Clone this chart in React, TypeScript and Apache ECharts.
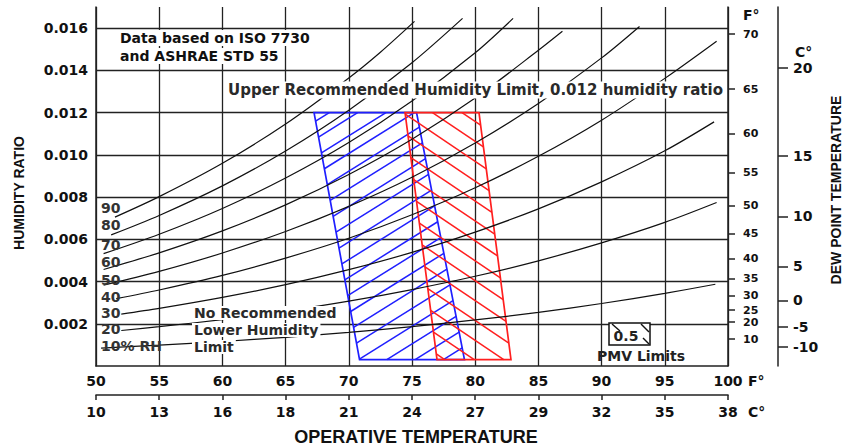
import React, { useEffect, useRef } from "react";
import * as echarts from "echarts";

// ---- axis values ----
const TEMP_F_MIN = 50;
const TEMP_F_MAX = 100;
const TEMP_STEP = 5;
const TEMP_C_LABELS = ["10", "13", "16", "18", "21", "24", "27", "29", "32", "35", "38"];
const HUMIDITY_MAX = 0.017;
const HUMIDITY_STEP = 0.002;

// dew point scales (humidity ratio at each dew point tick)
const DEW_F_LABELS = ["10", "20", "25", "30", "35", "40", "45", "50", "55", "60", "65", "70"];
const DEW_F_W = [0.00127, 0.00208, 0.00264, 0.00335, 0.00415, 0.00509, 0.00627, 0.00759, 0.00915, 0.01099, 0.01311, 0.01571];
const DEW_C_LABELS = ["-10", "-5", "0", "5", "10", "15", "20"];
const DEW_C_W = [0.0009, 0.00184, 0.00311, 0.00472, 0.00708, 0.00995, 0.0141];

// ---- relative humidity curves [°F, humidity ratio] ----
const RH_LABELS = ["90", "80", "70", "60", "50", "40", "30", "20", "10% RH"];
const rh90 = [[51.5, 0.00705], [55, 0.00802], [60, 0.0096], [65, 0.01146], [70, 0.01364], [72.5, 0.01486], [75.2, 0.01632]];
const rh80 = [[51.2, 0.00621], [55, 0.00713], [60, 0.00853], [65, 0.01018], [70, 0.01211], [75, 0.01436], [79, 0.01646]];
const rh70 = [[50.6, 0.00532], [55, 0.00624], [60, 0.00746], [65, 0.0089], [70, 0.01058], [75, 0.01255], [80, 0.01483], [83, 0.01646]];
const rh60 = [[50.6, 0.00457], [55, 0.00536], [60, 0.0064], [65, 0.00763], [70, 0.00907], [75, 0.01074], [80, 0.01269], [85, 0.01495], [86.9, 0.01585]];
const rh50 = [[50.6, 0.00383], [55, 0.00448], [60, 0.00535], [65, 0.00637], [70, 0.00756], [75, 0.00894], [80, 0.01056], [85, 0.01243], [90, 0.01459], [93, 0.01608]];
const rh40 = [[51.6, 0.00319], [55, 0.0036], [60, 0.00429], [65, 0.00511], [70, 0.00605], [75, 0.00716], [80, 0.00844], [85, 0.00993], [90, 0.01164], [95, 0.01362], [99.1, 0.01538]];
const rh30 = [[52, 0.00246], [55, 0.00273], [60, 0.00325], [65, 0.00385], [70, 0.00456], [75, 0.00538], [80, 0.00634], [85, 0.00744], [90, 0.00872], [95, 0.01019], [98.9, 0.01156]];
const rh20 = [[52, 0.00168], [55, 0.00186], [60, 0.0022], [65, 0.0026], [70, 0.00307], [75, 0.00362], [80, 0.00425], [85, 0.00498], [90, 0.00583], [95, 0.0068], [99.1, 0.00774]];
const rh10 = [[50.4, 0.00085], [55, 0.00099], [60, 0.00116], [65, 0.00136], [70, 0.00159], [75, 0.00186], [80, 0.00218], [85, 0.00254], [90, 0.00296], [95, 0.00344], [99, 0.00387]];
const RH_CURVES = [rh90, rh80, rh70, rh60, rh50, rh40, rh30, rh20, rh10];

// ---- comfort zones (PMV limits) [°F, humidity ratio] ----
const ZONE_WINTER = [[67.25, 0.012], [75.36, 0.012], [79.15, 0.0003], [70.85, 0.0003]];
const ZONE_SUMMER = [[74.45, 0.012], [80.3, 0.012], [82.83, 0.0003], [76.98, 0.0003]];

const FONT = "DejaVu Sans";
const AXIS_FONT = "Liberation Sans";
const INK = "#111";

function hatchSegments(pts: number[][], angleDeg: number, spacing: number) {
  const a = (angleDeg * Math.PI) / 180;
  const nx = Math.sin(a);
  const ny = Math.cos(a);
  const proj = pts.map((p) => p[0] * nx + p[1] * ny);
  const lo = Math.min(...proj);
  const hi = Math.max(...proj);
  const segs: number[][][] = [];
  for (let c = Math.ceil(lo / spacing) * spacing; c <= hi; c += spacing) {
    const hits: number[][] = [];
    for (let i = 0; i < pts.length; i++) {
      const j = (i + 1) % pts.length;
      const fp = proj[i] - c;
      const fq = proj[j] - c;
      if ((fp < 0 && fq >= 0) || (fp >= 0 && fq < 0)) {
        const t = fp / (fp - fq);
        hits.push([pts[i][0] + t * (pts[j][0] - pts[i][0]), pts[i][1] + t * (pts[j][1] - pts[i][1])]);
      }
    }
    if (hits.length >= 2) segs.push([hits[0], hits[1]]);
  }
  return segs;
}

function zoneSeries(corners: number[][], color: string, angle: number, spacing: number) {
  return {
    type: "custom",
    data: corners,
    z: 2,
    silent: true,
    renderItem: (params: any, api: any) => {
      if (params.dataIndex !== 0) return null;
      const pts = corners.map((c) => api.coord(c));
      const segs = hatchSegments(pts, angle, spacing);
      return {
        type: "group",
        children: [
          ...segs.map((s) => ({
            type: "line",
            shape: { x1: s[0][0], y1: s[0][1], x2: s[1][0], y2: s[1][1] },
            style: { stroke: color, lineWidth: 1.5 },
          })),
          {
            type: "polygon",
            shape: { points: pts },
            style: { fill: "none", stroke: color, lineWidth: 1.7 },
          },
        ],
      };
    },
  };
}

function lookup(values: number[], labels: string[], v: number) {
  let best = -1;
  let bd = Infinity;
  values.forEach((w, i) => {
    const d = Math.abs(w - v);
    if (d < bd) {
      bd = d;
      best = i;
    }
  });
  return best >= 0 && bd < 1e-6 ? labels[best] : "";
}

function txt(text: string, x: number, y: number, extra: any = {}) {
  return {
    type: "text",
    z: 100,
    x,
    y,
    silent: true,
    ...(extra.rotation !== undefined ? { rotation: extra.rotation } : {}),
    style: {
      text,
      fontFamily: FONT,
      fontWeight: "bold",
      fontSize: 15,
      lineHeight: 15,
      fill: INK,
      align: "left",
      verticalAlign: "middle",
      ...(extra.style || {}),
    },
  };
}

const RH_LABEL_Y = [208, 225, 245, 262, 280, 297, 313, 329, 346];
const NOTE_BG = { fill: "#2a2a2a", backgroundColor: "#fff", padding: [0, 2], fontSize: 14, lineHeight: 14 };

export default function App() {
  const ref = useRef<HTMLDivElement>(null);
  useEffect(() => {
    if (!ref.current) return;
    const chart = echarts.init(ref.current, null, { renderer: "svg" });
    const gridLine = { color: "#222", width: 1.3 };
    const axisLabelStyle = { fontFamily: FONT, fontWeight: "bold", fontSize: 14, color: INK };
    const rightLabelStyle = { fontFamily: FONT, fontWeight: "bold", fontSize: 11, lineHeight: 10, color: INK };
    const option: any = {
      animation: false,
      backgroundColor: "#fff",
      grid: { left: 96, right: 115, top: 7, bottom: 81, containLabel: false, outerBoundsMode: "none" },
      xAxis: [
        {
          type: "value",
          min: TEMP_F_MIN,
          max: TEMP_F_MAX,
          interval: TEMP_STEP,
          position: "bottom",
          axisLine: { show: true, onZero: false, lineStyle: { color: "#222", width: 1.5 } },
          axisTick: { show: false },
          axisLabel: { ...axisLabelStyle, margin: 8, showMinLabel: true, showMaxLabel: true },
          splitLine: { show: true, lineStyle: gridLine },
        },
        {
          type: "value",
          min: TEMP_F_MIN,
          max: TEMP_F_MAX,
          interval: TEMP_STEP,
          position: "bottom",
          offset: 29,
          axisLine: { show: true, onZero: false, lineStyle: { color: "#222", width: 1.6 } },
          axisTick: { show: true, length: 5, lineStyle: { color: "#222", width: 1.5 } },
          axisLabel: {
            ...axisLabelStyle,
            margin: 10,
            showMinLabel: true,
            showMaxLabel: true,
            formatter: (v: number) => TEMP_C_LABELS[Math.round((v - TEMP_F_MIN) / TEMP_STEP)] || "",
          },
          splitLine: { show: false },
        },
      ],
      yAxis: [
        {
          type: "value",
          min: 0,
          max: HUMIDITY_MAX,
          interval: HUMIDITY_STEP,
          position: "left",
          axisLine: { show: true, onZero: false, lineStyle: { color: "#222", width: 1.5 } },
          axisTick: { show: false },
          axisLabel: {
            ...axisLabelStyle,
            margin: 8,
            showMinLabel: false,
            showMaxLabel: false,
            formatter: (v: number) => (v > 0 && v < HUMIDITY_MAX - 1e-9 ? v.toFixed(3) : ""),
          },
          splitLine: { show: true, showMinLine: false, showMaxLine: false, lineStyle: gridLine },
        },
        {
          type: "value",
          min: 0,
          max: HUMIDITY_MAX,
          position: "right",
          axisLine: { show: true, onZero: false, lineStyle: { color: "#222", width: 1.5 } },
          axisTick: { show: true, length: 7, customValues: DEW_F_W, lineStyle: { color: "#222", width: 1.5 } },
          axisLabel: {
            ...rightLabelStyle,
            margin: 15,
            customValues: DEW_F_W,
            formatter: (v: number) => lookup(DEW_F_W, DEW_F_LABELS, v),
          },
          splitLine: { show: false },
        },
        {
          type: "value",
          min: 0,
          max: HUMIDITY_MAX,
          position: "right",
          offset: 50,
          axisLine: { show: true, onZero: false, lineStyle: { color: "#222", width: 1.5 } },
          axisTick: { show: true, length: 10, customValues: DEW_C_W, lineStyle: { color: "#222", width: 1.5 } },
          axisLabel: {
            ...axisLabelStyle,
            margin: 15,
            customValues: DEW_C_W,
            formatter: (v: number) => lookup(DEW_C_W, DEW_C_LABELS, v),
          },
          splitLine: { show: false },
        },
      ],
      series: [
        zoneSeries(ZONE_WINTER, "#1f1fff", 32, 15),
        zoneSeries(ZONE_SUMMER, "#ff1f1f", -34, 16.5),
        ...RH_CURVES.map((d, i) => ({
          type: "line",
          name: RH_LABELS[i],
          data: d,
          symbol: "none",
          showSymbol: false,
          smooth: 0.3,
          silent: true,
          z: 3,
          lineStyle: { color: "#111", width: 1.2 },
        })),
      ],
      graphic: [
        txt("Data based on ISO 7730", 117, 38, {
          style: { fontSize: 14, lineHeight: 14, backgroundColor: "#fff", padding: [1, 3, 1, 3] },
        }),
        txt("and ASHRAE STD 55", 117, 56, {
          style: { fontSize: 14, lineHeight: 14, backgroundColor: "#fff", padding: [1, 3, 1, 3] },
        }),
        txt("Upper Recommended Humidity Limit, 0.012 humidity ratio", 226, 90, {
          style: { fill: "#2a2a2a", backgroundColor: "#fff", padding: [1, 2] },
        }),
        txt("No Recommended", 192, 313, { style: NOTE_BG }),
        txt("Lower Humidity", 192, 330, { style: NOTE_BG }),
        txt("Limit", 192, 347, { style: NOTE_BG }),
        ...RH_LABELS.map((l, i) =>
          txt(l, 101, RH_LABEL_Y[i], { style: { fontSize: 14, lineHeight: 14, fill: "#333" } })
        ),
        {
          type: "rect",
          z: 100,
          silent: true,
          shape: { x: 609, y: 323, width: 41, height: 22 },
          style: { fill: "#fff", stroke: "#111", lineWidth: 1.5 },
        },
        { type: "line", z: 101, silent: true, shape: { x1: 612, y1: 324, x2: 620, y2: 331 }, style: { stroke: "#111", lineWidth: 1.4 } },
        { type: "line", z: 101, silent: true, shape: { x1: 641, y1: 324, x2: 649, y2: 332 }, style: { stroke: "#111", lineWidth: 1.4 } },
        { type: "line", z: 101, silent: true, shape: { x1: 643, y1: 338, x2: 649, y2: 344 }, style: { stroke: "#111", lineWidth: 1.4 } },
        txt("0.5", 626, 336, { style: { align: "center", fill: "#222", fontSize: 14, lineHeight: 14 } }),
        txt("PMV Limits", 641, 356, { style: { align: "center", fill: "#222", fontSize: 14, lineHeight: 14 } }),
        txt("F°", 743, 15, { style: { fontSize: 14 } }),
        txt("C°", 795, 52, { style: { fontSize: 14 } }),
        txt("F°", 748, 381, { style: { fontSize: 14 } }),
        txt("C°", 748, 412, { style: { fontSize: 14 } }),
        txt("OPERATIVE TEMPERATURE", 416, 437, {
          style: { align: "center", fontFamily: AXIS_FONT, fontSize: 18, lineHeight: 18 },
        }),
        txt("HUMIDITY RATIO", 19, 193, {
          rotation: Math.PI / 2,
          style: { align: "center", fontFamily: AXIS_FONT, fontSize: 14 },
        }),
        txt("DEW POINT TEMPERATURE", 836, 190, {
          rotation: Math.PI / 2,
          style: { align: "center", fontFamily: AXIS_FONT, fontSize: 14 },
        }),
      ],
    };
    chart.setOption(option);
    return () => chart.dispose();
  }, []);
  return (
    <div
      ref={ref}
      style={{ position: "absolute", left: 0, top: 0, width: 843, height: 447, background: "#fff" }}
    />
  );
}
